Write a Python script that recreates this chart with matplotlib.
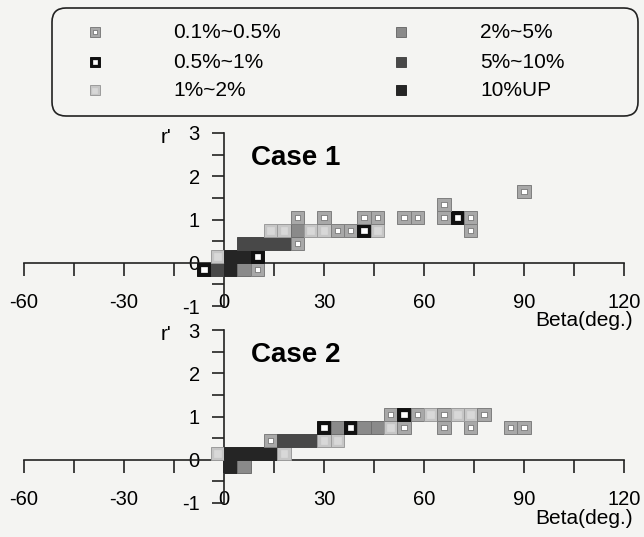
import matplotlib
matplotlib.use("Agg")
import matplotlib.pyplot as plt
from matplotlib.patches import Rectangle, FancyBboxPatch

plt.rcParams["font.family"] = ["Liberation Sans", "DejaVu Sans"]
plt.rcParams["axes.unicode_minus"] = False

# frequency classes (share of samples falling into a beta / r' cell)
class_labels = ["0.1%~0.5%", "0.5%~1%", "1%~2%", "2%~5%", "5%~10%", "10%UP"]

BIN_W = 4.0   # beta bin width, deg
BIN_H = 0.3   # r' bin height

# Case 1: bin left edge (deg), bin bottom edge (r'), class index
case1_beta = [-8, -4, 0, 4, 8,
              -4, 0, 4, 8,
              4, 8, 12, 16, 20,
              12, 16, 20, 24, 28, 32, 36, 40, 44, 72,
              20, 28, 40, 44, 52, 56, 64, 68, 72,
              64, 88]
case1_r = [-0.3, -0.3, -0.3, -0.3, -0.3,
           0.0, 0.0, 0.0, 0.0,
           0.3, 0.3, 0.3, 0.3, 0.3,
           0.6, 0.6, 0.6, 0.6, 0.6, 0.6, 0.6, 0.6, 0.6, 0.6,
           0.9, 0.9, 0.9, 0.9, 0.9, 0.9, 0.9, 0.9, 0.9,
           1.2, 1.5]
case1_cls = [1, 4, 5, 3, 0,
             2, 5, 5, 1,
             4, 4, 4, 4, 0,
             2, 2, 3, 2, 2, 0, 0, 1, 2, 0,
             0, 0, 0, 0, 0, 0, 0, 1, 0,
             0, 0]

# Case 2
case2_beta = [0, 4,
              -4, 0, 4, 8, 12, 16,
              12, 16, 20, 24, 28, 32,
              28, 32, 36, 40, 44, 48, 52, 64, 72, 84, 88,
              48, 52, 56, 60, 64, 68, 72, 76]
case2_r = [-0.3, -0.3,
           0.0, 0.0, 0.0, 0.0, 0.0, 0.0,
           0.3, 0.3, 0.3, 0.3, 0.3, 0.3,
           0.6, 0.6, 0.6, 0.6, 0.6, 0.6, 0.6, 0.6, 0.6, 0.6, 0.6,
           0.9, 0.9, 0.9, 0.9, 0.9, 0.9, 0.9, 0.9]
case2_cls = [5, 3,
             2, 5, 5, 5, 5, 2,
             0, 4, 4, 4, 2, 2,
             1, 3, 1, 3, 3, 2, 0, 0, 0, 0, 0,
             0, 1, 0, 2, 0, 2, 2, 0]

# outer fill, outer edge, inner fill, inner size (fraction of cell)
STYLES = [
    ("#a8a8a8", "#7e7e7e", "#ffffff", 0.42),
    ("#111111", "#111111", "#ffffff", 0.42),
    ("#c6c6c6", "#9c9c9c", "#d8d8d8", 0.5),
    ("#8a8a8a", "#6e6e6e", None, 0),
    ("#484848", "#484848", None, 0),
    ("#252525", "#252525", None, 0),
]

BG = "#f4f4f2"


def draw_cell(ax, x, y, w, h, cls, clip=False):
    face, edge, inner, frac = STYLES[cls]
    ax.add_patch(Rectangle((x, y), w, h, facecolor=face, edgecolor=edge,
                           linewidth=0.7, zorder=3, clip_on=clip))
    if inner is not None:
        iw, ih = w * frac, h * frac
        ax.add_patch(Rectangle((x + (w - iw) / 2, y + (h - ih) / 2), iw, ih,
                               facecolor=inner, edgecolor="#666666" if cls == 0 else inner,
                               linewidth=0.5, zorder=4, clip_on=clip))


def setup_axes(ax, title):
    ax.set_xlim(-60, 120)
    ax.set_ylim(-1, 3)
    ax.patch.set_visible(False)
    for side in ("top", "right"):
        ax.spines[side].set_visible(False)
    ax.spines["left"].set_position(("data", 0))
    ax.spines["bottom"].set_position(("data", 0))
    for side in ("left", "bottom"):
        ax.spines[side].set_linewidth(1.2)
        ax.spines[side].set_color("#222222")

    ax.set_xticks([-60, -30, 0, 30, 60, 90, 120])
    ax.set_xticks([-45, -15, 15, 45, 75, 105], minor=True)
    ax.set_yticks([-1, 0, 1, 2, 3])
    ax.set_yticks([-0.5, 0.5, 1.5, 2.5], minor=True)
    ax.tick_params(axis="x", which="both", direction="out", length=9.5,
                   width=1.2, color="#222222")
    ax.tick_params(axis="x", which="major", pad=12, labelsize=14.5)
    ax.tick_params(axis="y", which="both", direction="out", length=8.5,
                   width=1.2, color="#222222")
    ax.tick_params(axis="y", which="major", pad=9, labelsize=14.5)

    ax.text(-17.5, 2.9, "r'", fontsize=15, ha="center", va="center")
    ax.text(8, 2.25, title, fontsize=20, fontweight="bold",
            ha="left", va="baseline")


fig = plt.figure(figsize=(6.44, 5.37), dpi=100, facecolor=BG)
W, H = 644, 537

ax1 = fig.add_axes([24 / W, (H - 306) / H, 600 / W, 173 / H])
ax2 = fig.add_axes([24 / W, (H - 503) / H, 600 / W, 173 / H])

setup_axes(ax1, "Case 1")
setup_axes(ax2, "Case 2")

for b, r, c in zip(case1_beta, case1_r, case1_cls):
    draw_cell(ax1, b, r, BIN_W, BIN_H, c)
for b, r, c in zip(case2_beta, case2_r, case2_cls):
    draw_cell(ax2, b, r, BIN_W, BIN_H, c)

fig.text(633 / W, 1 - 321 / H, "Beta(deg.)", fontsize=15, ha="right", va="center")
fig.text(633 / W, 1 - 518 / H, "Beta(deg.)", fontsize=15, ha="right", va="center")

# legend drawn in pixel units on an overlay axes
lg = fig.add_axes([0, 0, 1, 1])
lg.set_xlim(0, W)
lg.set_ylim(H, 0)
lg.axis("off")

lg.add_patch(FancyBboxPatch((52, 8), 586, 108,
                            boxstyle="round,pad=0,rounding_size=14",
                            facecolor="none", edgecolor="#222222", linewidth=1.2))

col_marker_x = [95, 401]
col_text_x = [173, 480]
row_y = [32, 62, 90]
msize = 10
for i, lab in enumerate(class_labels):
    col, row = divmod(i, 3)
    mx, my = col_marker_x[col], row_y[row]
    draw_cell(lg, mx - msize / 2, my - msize / 2, msize, msize, i, clip=True)
    lg.text(col_text_x[col], my, lab, fontsize=15, ha="left", va="center")

fig.savefig("out.png", dpi=100, facecolor=BG)
